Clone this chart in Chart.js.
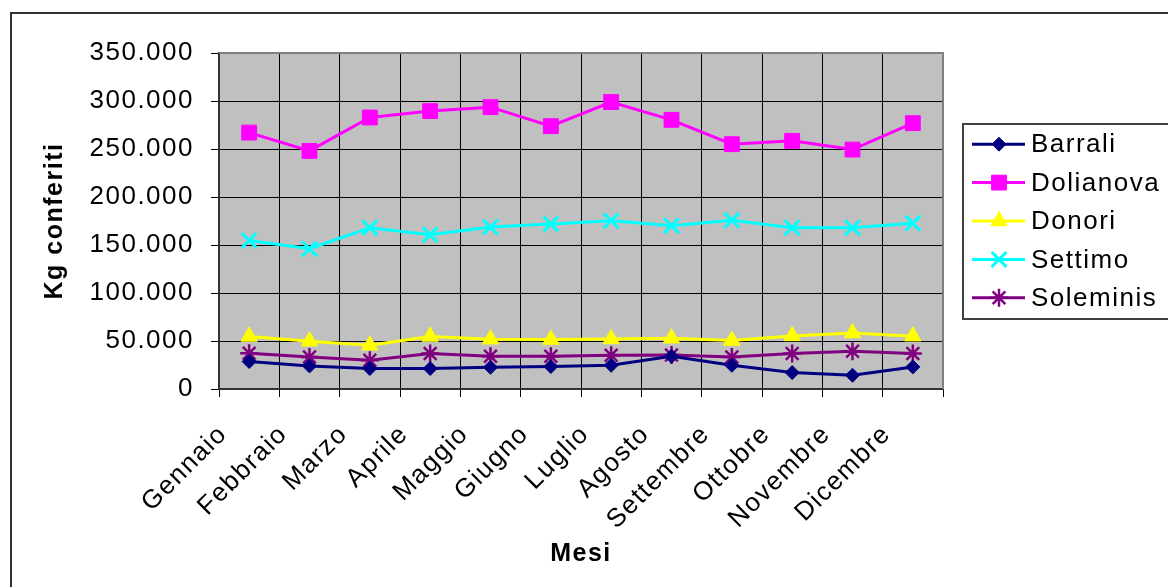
<!DOCTYPE html>
<html>
<head>
<meta charset="utf-8">
<title>Kg conferiti per mese</title>
<script src="https://cdn.jsdelivr.net/npm/chart.js@4/dist/chart.umd.min.js"></script>
<style>
    html, body { margin: 0; padding: 0; background: #fff; }
    #wrap { width: 1168px; height: 587px; }
</style>
</head>
<body>
<div id="wrap"><canvas id="kgChart"></canvas></div>
<script>
const mesi = ['Gennaio', 'Febbraio', 'Marzo', 'Aprile', 'Maggio', 'Giugno', 'Luglio', 'Agosto', 'Settembre', 'Ottobre', 'Novembre', 'Dicembre'];
const barrali = [28600, 24000, 21300, 21300, 22600, 23400, 24700, 34100, 24700, 17100, 14300, 23000];
const dolianova = [267100, 248000, 282800, 289500, 293600, 273800, 298900, 280400, 255000, 258500, 249400, 276900];
const donori = [54700, 49800, 45600, 54700, 51900, 51500, 52200, 52900, 50500, 55300, 58400, 55000];
const settimo = [154800, 146100, 168000, 160700, 168700, 171900, 175300, 170100, 175700, 168000, 168000, 172600];
const soleminis = [37300, 33400, 29900, 36900, 34100, 34100, 35200, 35500, 33400, 36900, 39300, 36900];
const yMin = 0, yMax = 350000, yStep = 50000;

const FONT = '"Liberation Sans", Arial, sans-serif';

function serie(label, data, color, style, radius, bw) {
    return {
        label: label,
        data: data,
        borderColor: color,
        backgroundColor: color,
        borderWidth: 3,
        pointStyle: style,
        pointRadius: radius,
        pointHoverRadius: radius,
        pointBackgroundColor: color,
        pointBorderColor: color,
        pointBorderWidth: bw,
        tension: 0
    };
}

// thousands with a dot, like the Italian Excel sheet
function migliaia(v) {
    return String(v).replace(/\B(?=(\d{3})+(?!\d))/g, '.');
}

const sfondo = {
    id: 'sfondo',
    beforeDraw(chart) {
        const { ctx, chartArea: a } = chart;
        // Excel text is a bit wider than Arial, spread the letters a little
        if ('letterSpacing' in ctx) ctx.letterSpacing = '1.5px';
        ctx.save();
        ctx.fillStyle = '#fff';
        ctx.fillRect(0, 0, chart.width, chart.height);
        ctx.strokeStyle = '#333';
        ctx.lineWidth = 2;
        ctx.beginPath();
        ctx.moveTo(11, chart.height + 5);
        ctx.lineTo(11, 13);
        ctx.lineTo(chart.width + 5, 13);
        ctx.stroke();
        ctx.fillStyle = '#c0c0c0';
        ctx.fillRect(a.left, a.top, a.right - a.left, a.bottom - a.top);
        ctx.restore();
    },
    beforeDatasetsDraw(chart) {
        const { ctx, chartArea: a } = chart;
        ctx.save();
        ctx.strokeStyle = '#808080';
        ctx.lineWidth = 2;
        ctx.beginPath();
        ctx.moveTo(a.left, a.top);
        ctx.lineTo(a.right, a.top);
        ctx.lineTo(a.right, a.bottom);
        ctx.stroke();
        ctx.restore();
    }
};

const legenda = {
    id: 'legenda',
    afterDraw(chart) {
        const { ctx, chartArea: a } = chart;
        const ds = chart.data.datasets;
        const row = 38.4;
        const mid = (a.top + a.bottom) / 2;
        const left = a.right + 20;
        const top = mid - row * ds.length / 2 - 1;
        ctx.save();
        ctx.strokeStyle = '#404040';
        ctx.lineWidth = 2;
        ctx.strokeRect(left, top, chart.width, row * ds.length + 3);
        ctx.font = '26px ' + FONT;
        ctx.textBaseline = 'middle';
        ds.forEach((d, i) => {
            const y = mid + (i - (ds.length - 1) / 2) * row;
            ctx.strokeStyle = d.borderColor;
            ctx.lineWidth = d.borderWidth;
            ctx.beginPath();
            ctx.moveTo(left + 9, y);
            ctx.lineTo(left + 62, y);
            ctx.stroke();
            ctx.fillStyle = d.pointBackgroundColor;
            ctx.lineWidth = d.pointBorderWidth;
            if (Chart.helpers && Chart.helpers.drawPoint) {
                Chart.helpers.drawPoint(ctx, {
                    pointStyle: d.pointStyle, radius: d.pointRadius, rotation: 0, borderWidth: d.pointBorderWidth
                }, left + 36, y);
            }
            ctx.fillStyle = '#000';
            ctx.fillText(d.label, left + 68, y + 1);
        });
        ctx.restore();
    }
};

const ctx = document.getElementById('kgChart').getContext('2d');
let kgChart = new Chart(ctx, {
    type: 'line',
    data: {
        labels: mesi,
        datasets: [
            serie('Barrali', barrali, '#000080', 'rectRot', 7, 1),
            serie('Dolianova', dolianova, '#ff00ff', 'rect', 10.5, 1),
            serie('Donori', donori, '#ffff00', 'triangle', 9.5, 1),
            serie('Settimo', settimo, '#00ffff', 'crossRot', 10.5, 3),
            serie('Soleminis', soleminis, '#800080', 'star', 9, 2.5)
        ]
    },
    options: {
        responsive: true,
        maintainAspectRatio: false,
        animation: false,
        layout: { padding: { left: 0, top: 53, right: 225, bottom: 0 } },
        plugins: {
            legend: { display: false },
            tooltip: { enabled: false }
        },
        scales: {
            x: {
                offset: true,
                grid: { offset: true, color: '#000', lineWidth: 1, tickLength: 8, tickColor: '#000' },
                border: { color: '#333', width: 2 },
                ticks: {
                    autoSkip: false, minRotation: 45, maxRotation: 45,
                    labelOffset: -26, padding: 22,
                    color: '#000', font: { family: FONT, size: 26 }
                },
                title: {
                    display: true, text: 'Mesi', color: '#000',
                    font: { family: FONT, size: 25, weight: 'bold' },
                    padding: { top: 0, bottom: 18 }
                },
                afterFit(scale) { scale.height = 198; }
            },
            y: {
                min: yMin, max: yMax,
                grid: { color: '#000', lineWidth: 1, tickLength: 8, tickColor: '#000' },
                border: { color: '#333', width: 2 },
                ticks: {
                    stepSize: yStep, padding: 17, color: '#000',
                    font: { family: FONT, size: 26 },
                    callback: v => migliaia(v)
                },
                title: {
                    display: true, text: 'Kg conferiti', color: '#000',
                    font: { family: FONT, size: 25, weight: 'bold' },
                    padding: { top: 40, bottom: 0 }
                },
                afterFit(scale) { scale.width = 219; }
            }
        }
    },
    plugins: [sfondo, legenda]
});
</script>
</body>
</html>
